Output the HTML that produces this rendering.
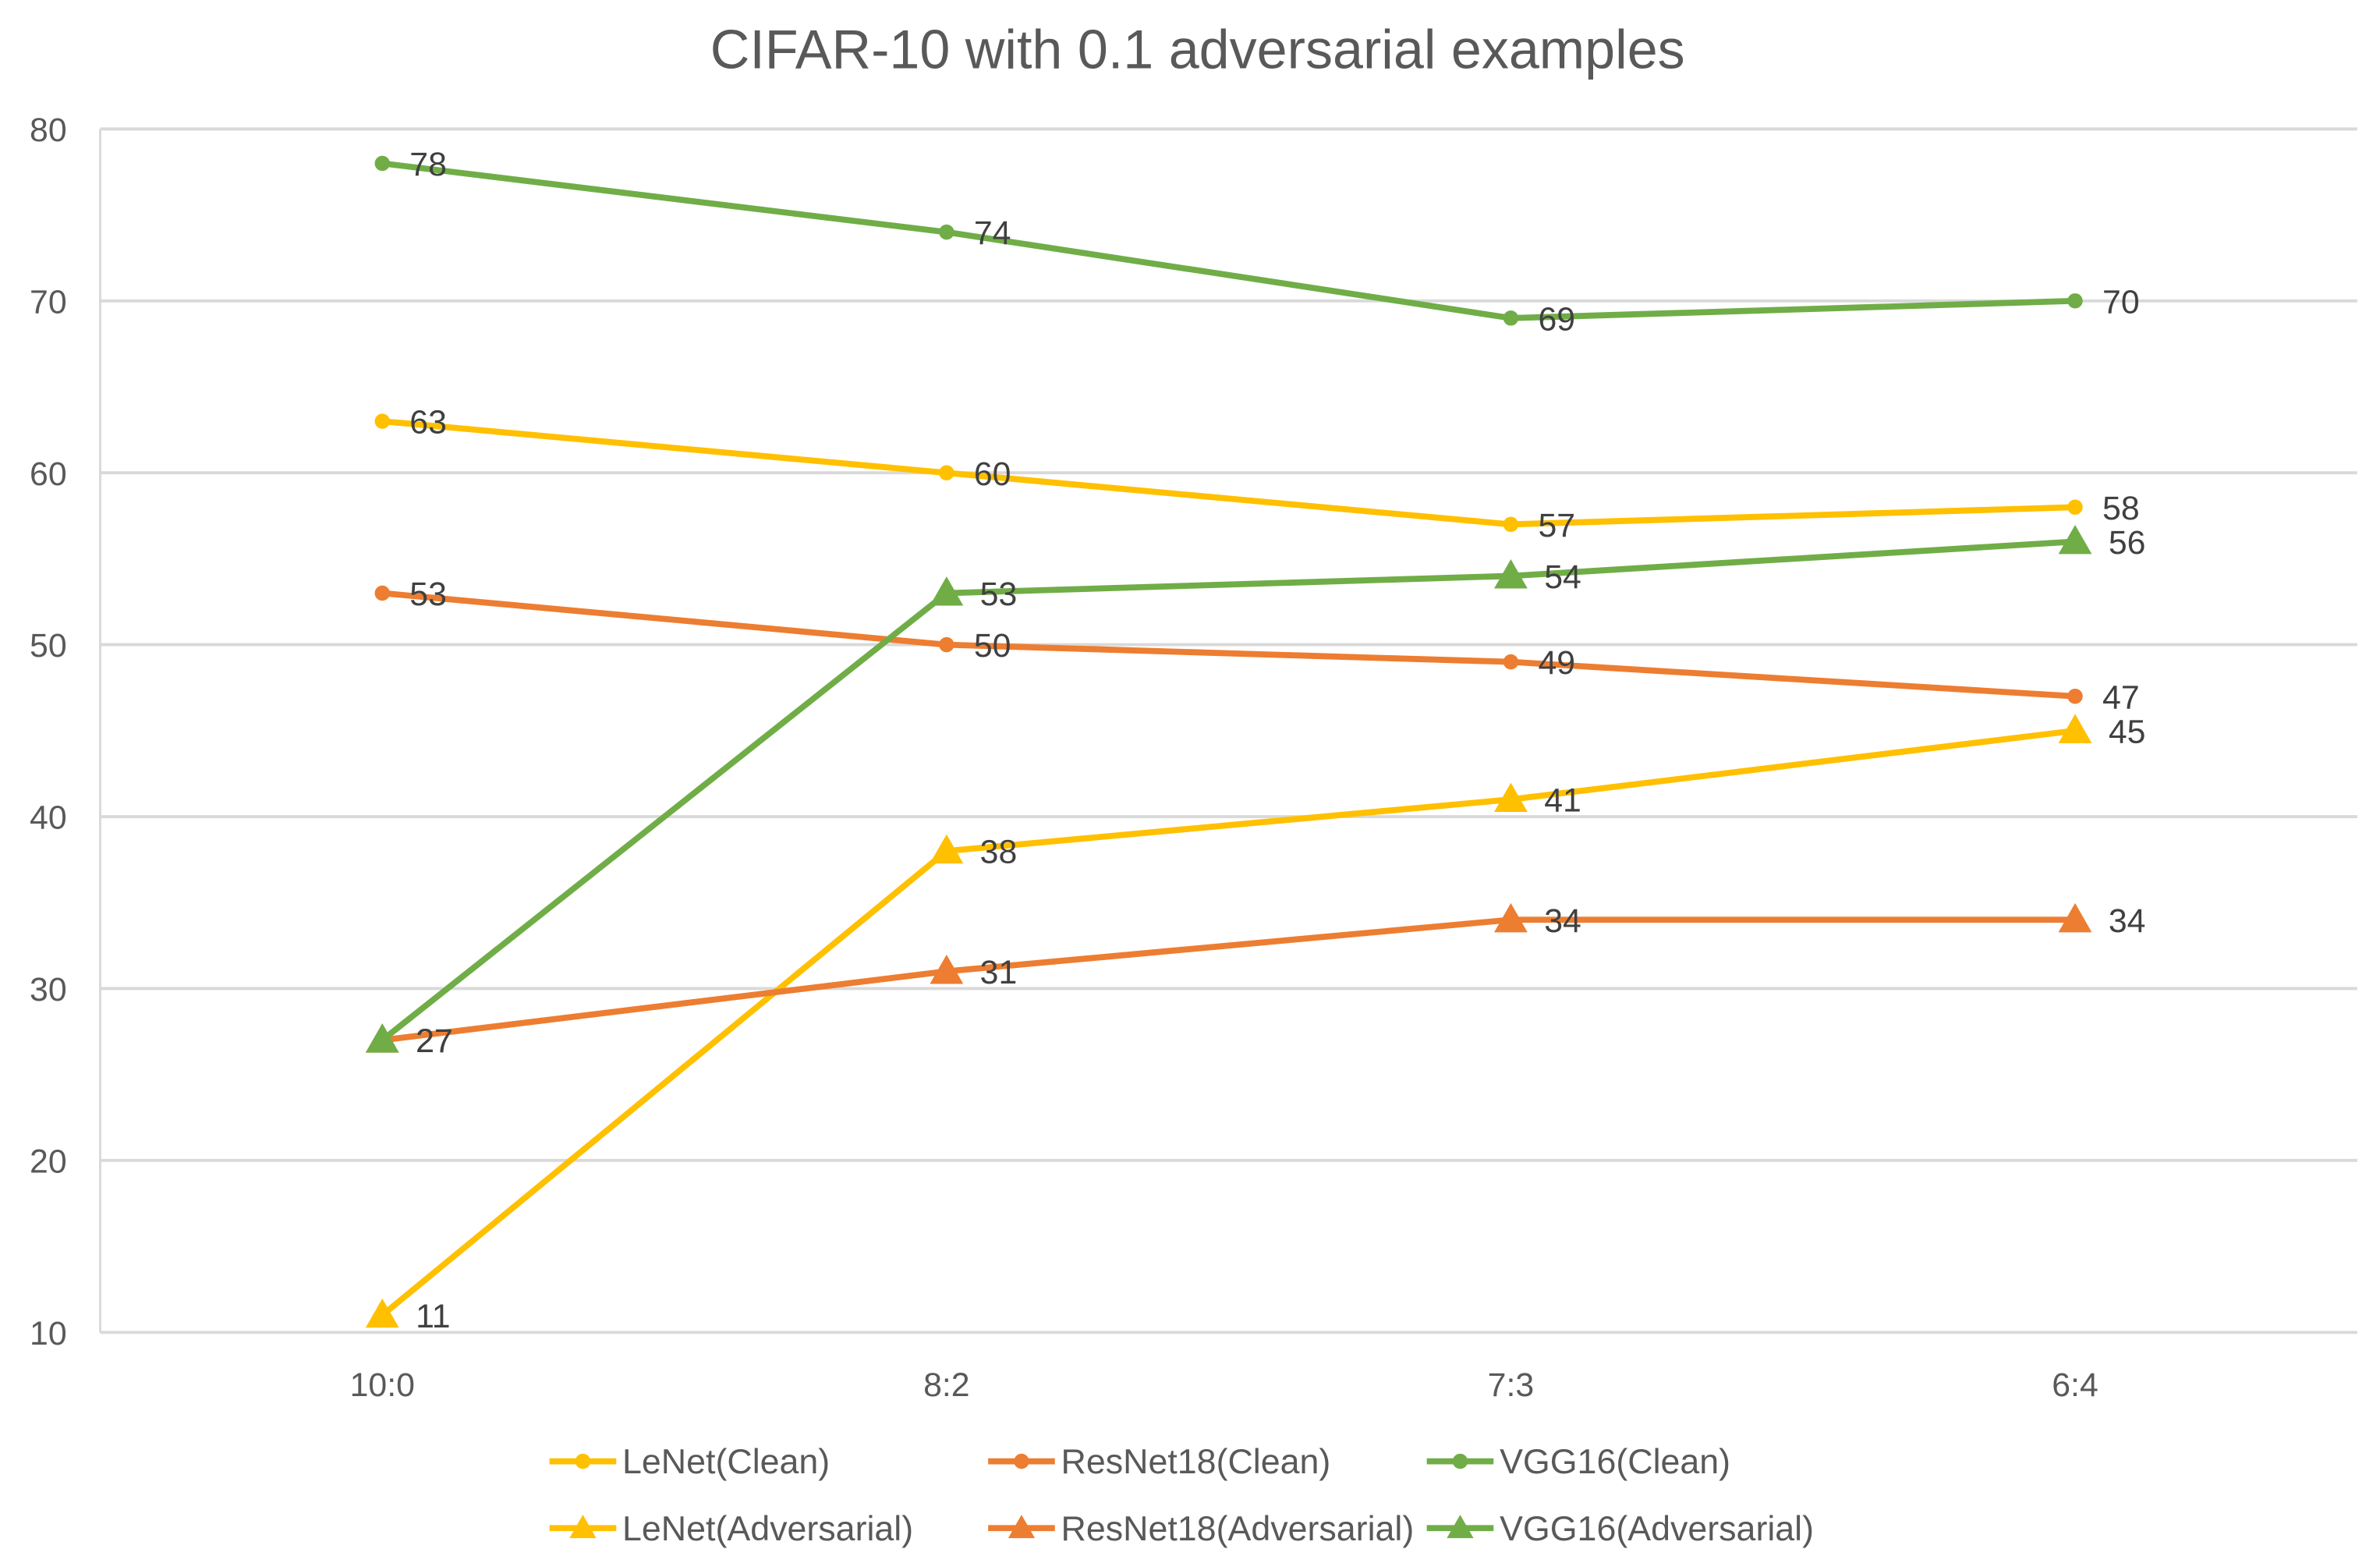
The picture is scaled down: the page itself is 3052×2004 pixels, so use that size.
<!DOCTYPE html>
<html><head><meta charset="utf-8"><style>
html,body{margin:0;padding:0;background:#fff;}
svg{display:block;}
text{font-family:"Liberation Sans",sans-serif;}
</style></head><body>
<svg id="chart" width="3052" height="2004" viewBox="0 0 1568 1030" preserveAspectRatio="none" xmlns="http://www.w3.org/2000/svg">
<text x="789" y="45" text-anchor="middle" font-size="36" fill="#595959">CIFAR-10 with 0.1 adversarial examples</text>
<g id="grid"></g><g id="series"></g><g id="legend"></g>
</svg>
<script>
const categories = ["10:0","8:2","7:3","6:4"];
const yTicks = [10,20,30,40,50,60,70,80];
const seriesNames = ["LeNet(Clean)","ResNet18(Clean)","VGG16(Clean)","LeNet(Adversarial)","ResNet18(Adversarial)","VGG16(Adversarial)"];
const lenetClean = [63,60,57,58];
const resnetClean = [53,50,49,47];
const vggClean = [78,74,69,70];
const lenetAdv = [11,38,41,45];
const resnetAdv = [27,31,34,34];
const vggAdv = [27,53,54,56];
const seriesValues = [lenetClean,resnetClean,vggClean,lenetAdv,resnetAdv,vggAdv];
const colors = ["#FFC000","#ED7D31","#70AD47","#FFC000","#ED7D31","#70AD47"];
const markers = ["circle","circle","circle","tri","tri","tri"];

const NS="http://www.w3.org/2000/svg";
const L=66,R=1553,T=85,B=878,ymin=10,ymax=80;
const x = i => L + (R-L)/categories.length*(i+0.5);
const y = v => B - (v-ymin)/(ymax-ymin)*(B-T);
function mk(tag,attrs,parent){const e=document.createElementNS(NS,tag);for(const k in attrs)e.setAttribute(k,attrs[k]);parent.appendChild(e);return e;}
const grid=document.getElementById('grid'), ser=document.getElementById('series'), leg=document.getElementById('legend');

yTicks.forEach(t=>{
  const g=mk('line',{x1:L,x2:R,y1:y(t),y2:y(t),stroke:'#d9d9d9','stroke-width':2},grid);
  
  
  const lb=mk('text',{x:44,y:y(t)+8,'text-anchor':'end','font-size':22,fill:'#595959'},grid);
  lb.textContent=t;
  
  
});
const ax=mk('line',{x1:L,x2:L,y1:T,y2:B,stroke:'#d9d9d9','stroke-width':1.5},grid);


categories.forEach((c,i)=>{
  const lb=mk('text',{x:x(i),y:920,'text-anchor':'middle','font-size':22,fill:'#595959'},grid);
  lb.textContent=c;
  
  
});
function marker(type,cx,cy,col,parent,s){
  if(type==='circle') return mk('circle',{cx:cx,cy:cy,r:5*s,fill:col},parent);
  const h=11*s; return mk('polygon',{points:`${cx},${cy-h} ${cx-h},${cy+h*0.75} ${cx+h},${cy+h*0.75}`,fill:col},parent);
}
seriesValues.forEach((vals,si)=>{
  const g=mk('g',{},ser);
  
  
  const pl=mk('polyline',{points:vals.map((v,i)=>x(i)+','+y(v)).join(' '),fill:'none',stroke:colors[si],'stroke-width':4,'stroke-linejoin':'round'},g);
  
  
  vals.forEach((v,i)=>{
    const m=marker(markers[si],x(i),y(v),colors[si],g,1);
    
    
    const t=mk('text',{x:x(i)+(markers[si]==='tri'?22:18),y:y(v)+8,'font-size':22,fill:'#404040'},g);
    t.textContent=v;
    
    
  });
});
const legX=[362,651,940], legY=[963,1007];
seriesNames.forEach((n,si)=>{
  const lx=legX[si%3], ly=legY[Math.floor(si/3)];
  const g=mk('g',{},leg);
  
  
  mk('line',{x1:lx,x2:lx+44,y1:ly,y2:ly,stroke:colors[si],'stroke-width':4},g);
  marker(markers[si],lx+22,ly,colors[si],g,markers[si]==='tri'?0.8:1);
  const t=mk('text',{x:lx+48,y:ly+8,'font-size':23,fill:'#595959'},g);
  t.textContent=n;
});
</script>
</body></html>
